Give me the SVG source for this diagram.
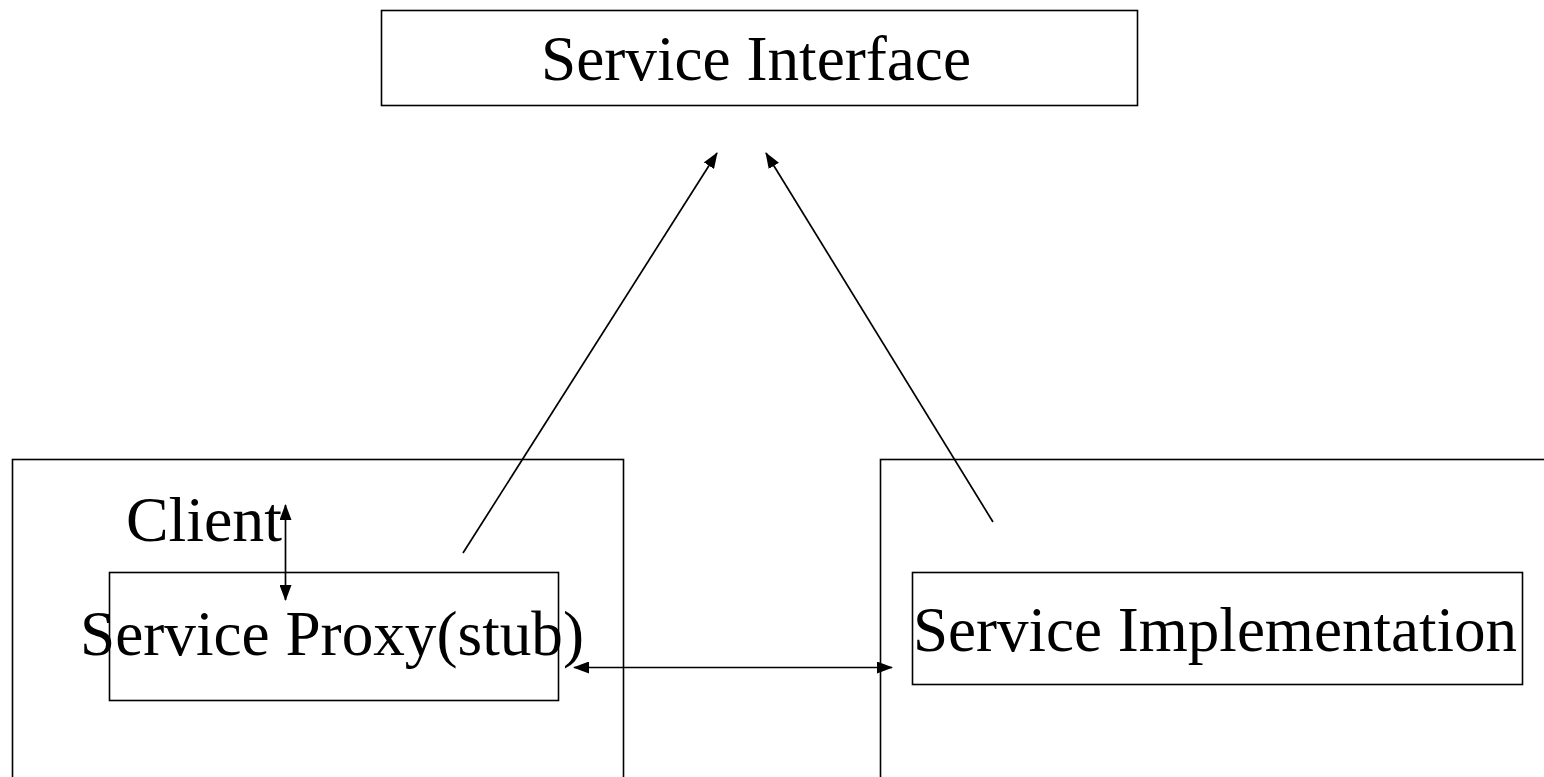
<svg xmlns="http://www.w3.org/2000/svg" width="1544" height="777" viewBox="0 0 1544 777">
  <style>
    .box { fill: none; stroke: #000; stroke-width: 1.6; }
    .lbl { font-family: "Liberation Serif", "Times New Roman", serif; font-size: 64px; fill: #000; }
    .conn { stroke: #000; stroke-width: 1.7; fill: none; }
  </style>
  <defs>
    <marker id="head" viewBox="0 0 16 12" refX="15" refY="6" markerWidth="16" markerHeight="12" markerUnits="userSpaceOnUse" orient="auto-start-reverse">
      <path d="M0,0 L16,6 L0,12 Z" fill="#000"/>
    </marker>
  </defs>
  <rect width="1544" height="777" fill="#fff"/>

  <g id="service-interface">
    <rect class="box" x="381.5" y="10.5" width="756" height="95"/>
    <text class="lbl" x="756" y="80" text-anchor="middle" textLength="430" lengthAdjust="spacingAndGlyphs">Service Interface</text>
  </g>

  <g id="client">
    <rect class="box" x="12.5" y="459.5" width="611" height="330"/>
    <text class="lbl" x="126" y="541" textLength="156" lengthAdjust="spacingAndGlyphs">Client</text>
  </g>

  <g id="service-proxy">
    <rect class="box" x="109.5" y="572.5" width="449" height="128"/>
    <text class="lbl" x="80" y="655" textLength="504" lengthAdjust="spacingAndGlyphs">Service Proxy(stub)</text>
  </g>

  <g id="server">
    <rect class="box" x="880.5" y="459.5" width="680" height="330"/>
  </g>

  <g id="service-implementation">
    <rect class="box" x="912.5" y="572.5" width="610" height="112"/>
    <text class="lbl" x="913" y="651" textLength="604" lengthAdjust="spacingAndGlyphs">Service Implementation</text>
  </g>

  <g id="connectors">
    <line class="conn" x1="463" y1="553" x2="717" y2="153" marker-end="url(#head)"/>
    <line class="conn" x1="993" y1="522" x2="766" y2="153" marker-end="url(#head)"/>
    <line class="conn" x1="285.5" y1="505" x2="285.5" y2="600" marker-start="url(#head)" marker-end="url(#head)"/>
    <line class="conn" x1="574" y1="667.5" x2="892" y2="667.5" marker-start="url(#head)" marker-end="url(#head)"/>
  </g>
</svg>
